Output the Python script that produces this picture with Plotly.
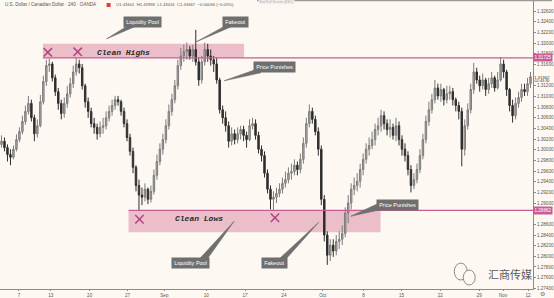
import plotly.graph_objects as go

# ---------------- data (USD/CAD, 240 candles) ----------------
close = [1.3016,1.3004,1.2991,1.2986,1.3001,1.3019,1.3034,1.3053,1.3072,1.3087,
         1.3060,1.3030,1.3045,1.3090,1.3128,1.3158,1.3161,1.3135,1.3109,1.3087,
         1.3068,1.3087,1.3105,1.3124,1.3146,1.3161,1.3154,1.3120,1.3090,1.3072,
         1.3049,1.3042,1.3030,1.3042,1.3045,1.3060,1.3072,1.3083,1.3094,1.3090,
         1.3072,1.3049,1.3023,1.2997,1.2967,1.2933,1.2915,1.2911,1.2926,1.2907,
         1.2922,1.2952,1.2978,1.3001,1.3019,1.3045,1.3072,1.3094,1.3120,1.3158,
         1.3176,1.3184,1.3188,1.3176,1.3188,1.3165,1.3131,1.3165,1.3188,1.3176,
         1.3169,1.3161,1.3131,1.3075,1.3060,1.3045,1.3016,1.3030,1.3019,1.3030,
         1.3038,1.3027,1.3019,1.3045,1.3049,1.3027,1.3001,1.2989,1.2956,1.2926,
         1.2907,1.2911,1.2918,1.2926,1.2937,1.2944,1.2956,1.2959,1.2971,1.2963,
         1.2982,1.3012,1.3049,1.3072,1.3057,1.3034,1.3001,1.2907,1.2840,1.2802,
         1.2821,1.2810,1.2828,1.2832,1.2843,1.2881,1.2900,1.2926,1.2933,1.2941,
         1.2963,1.2982,1.3001,1.3008,1.3019,1.3038,1.3045,1.3064,1.3049,1.3038,
         1.3042,1.3027,1.3045,1.3019,1.3001,1.2989,1.2963,1.2933,1.2944,1.2963,
         1.2989,1.3019,1.3053,1.3075,1.3094,1.3116,1.3101,1.3113,1.3094,1.3105,
         1.3109,1.3094,1.3083,1.3072,1.3001,1.3045,1.3075,1.3113,1.3146,1.3131,
         1.3120,1.3131,1.3113,1.3124,1.3135,1.3116,1.3131,1.3161,1.3146,1.3113,
         1.3083,1.3064,1.3087,1.3098,1.3113,1.3109,1.3124,1.3137]

open_ = [1.3010,
         1.3016,1.3004,1.2991,1.2986,1.3001,1.3019,1.3034,1.3053,1.3072,1.3087,
         1.3060,1.3030,1.3045,1.3090,1.3128,1.3158,1.3161,1.3135,1.3109,1.3087,
         1.3068,1.3087,1.3105,1.3124,1.3146,1.3161,1.3154,1.3120,1.3090,1.3072,
         1.3049,1.3042,1.3030,1.3042,1.3045,1.3060,1.3072,1.3083,1.3094,1.3090,
         1.3072,1.3049,1.3023,1.2997,1.2967,1.2933,1.2915,1.2911,1.2926,1.2907,
         1.2922,1.2952,1.2978,1.3001,1.3019,1.3045,1.3072,1.3094,1.3120,1.3158,
         1.3176,1.3184,1.3188,1.3176,1.3188,1.3165,1.3131,1.3165,1.3188,1.3176,
         1.3169,1.3161,1.3131,1.3075,1.3060,1.3045,1.3016,1.3030,1.3019,1.3030,
         1.3038,1.3027,1.3019,1.3045,1.3049,1.3027,1.3001,1.2989,1.2956,1.2926,
         1.2907,1.2911,1.2918,1.2926,1.2937,1.2944,1.2956,1.2959,1.2971,1.2963,
         1.2982,1.3012,1.3049,1.3072,1.3057,1.3034,1.3001,1.2907,1.2840,1.2802,
         1.2821,1.2810,1.2828,1.2832,1.2843,1.2881,1.2900,1.2926,1.2933,1.2941,
         1.2963,1.2982,1.3001,1.3008,1.3019,1.3038,1.3045,1.3064,1.3049,1.3038,
         1.3042,1.3027,1.3045,1.3019,1.3001,1.2989,1.2963,1.2933,1.2944,1.2963,
         1.2989,1.3019,1.3053,1.3075,1.3094,1.3116,1.3101,1.3113,1.3094,1.3105,
         1.3109,1.3094,1.3083,1.3072,1.3001,1.3045,1.3075,1.3113,1.3146,1.3131,
         1.3120,1.3131,1.3113,1.3124,1.3135,1.3116,1.3131,1.3161,1.3146,1.3113,
         1.3083,1.3064,1.3087,1.3098,1.3113,1.3109,1.3124]

high = [1.3027,1.3023,1.3010,1.3001,1.3008,1.3029,1.3042,1.3064,1.3083,1.3101,
        1.3094,1.3066,1.3057,1.3103,1.3139,1.3169,1.3171,1.3165,1.3141,1.3116,
        1.3094,1.3098,1.3120,1.3135,1.3158,1.3173,1.3169,1.3161,1.3124,1.3098,
        1.3079,1.3060,1.3049,1.3053,1.3060,1.3072,1.3083,1.3094,1.3101,1.3101,
        1.3094,1.3079,1.3057,1.3030,1.3004,1.2971,1.2944,1.2929,1.2937,1.2929,
        1.2933,1.2963,1.2991,1.3012,1.3030,1.3057,1.3085,1.3105,1.3131,1.3169,
        1.3191,1.3197,1.3201,1.3195,1.3197,1.3225,1.3173,1.3176,1.3201,1.3199,
        1.3188,1.3176,1.3173,1.3135,1.3083,1.3072,1.3053,1.3042,1.3038,1.3042,
        1.3045,1.3045,1.3034,1.3057,1.3060,1.3057,1.3034,1.3008,1.2997,1.2963,
        1.2933,1.2922,1.2929,1.2937,1.2948,1.2959,1.2967,1.2974,1.2982,1.2978,
        1.2993,1.3023,1.3060,1.3085,1.3079,1.3064,1.3042,1.3008,1.2915,1.2847,
        1.2832,1.2832,1.2840,1.2847,1.2858,1.2892,1.2915,1.2937,1.2948,1.2956,
        1.2974,1.2993,1.3012,1.3023,1.3034,1.3049,1.3060,1.3075,1.3072,1.3057,
        1.3057,1.3049,1.3060,1.3053,1.3027,1.3012,1.2997,1.2971,1.2956,1.2974,
        1.3001,1.3030,1.3064,1.3090,1.3105,1.3131,1.3124,1.3124,1.3116,1.3120,
        1.3120,1.3116,1.3098,1.3090,1.3079,1.3057,1.3087,1.3124,1.3163,1.3154,
        1.3139,1.3143,1.3135,1.3135,1.3146,1.3139,1.3146,1.3174,1.3169,1.3150,
        1.3116,1.3094,1.3098,1.3109,1.3124,1.3124,1.3135,1.3146]

low = [1.3004,1.2997,1.2978,1.2971,1.2982,1.2997,1.3014,1.3029,1.3047,1.3066,
       1.3053,1.3016,1.3023,1.3042,1.3085,1.3120,1.3146,1.3128,1.3101,1.3075,
       1.3057,1.3060,1.3079,1.3098,1.3116,1.3139,1.3143,1.3113,1.3079,1.3060,
       1.3042,1.3030,1.3019,1.3023,1.3030,1.3038,1.3053,1.3064,1.3075,1.3083,
       1.3064,1.3042,1.3016,1.2989,1.2956,1.2922,1.2886,1.2896,1.2903,1.2898,
       1.2901,1.2916,1.2944,1.2971,1.2991,1.3012,1.3038,1.3064,1.3087,1.3113,
       1.3150,1.3165,1.3169,1.3169,1.3165,1.3158,1.3120,1.3124,1.3158,1.3165,
       1.3158,1.3146,1.3124,1.3068,1.3049,1.3034,1.3004,1.3008,1.3010,1.3012,
       1.3019,1.3016,1.3004,1.3016,1.3038,1.3019,1.2993,1.2978,1.2948,1.2918,
       1.2888,1.2886,1.2900,1.2911,1.2918,1.2929,1.2937,1.2944,1.2952,1.2952,
       1.2956,1.2974,1.3004,1.3042,1.3049,1.3027,1.2989,1.2896,1.2828,1.2784,
       1.2791,1.2799,1.2802,1.2814,1.2821,1.2836,1.2862,1.2888,1.2915,1.2922,
       1.2929,1.2952,1.2974,1.2989,1.3001,1.3008,1.3027,1.3034,1.3038,1.3027,
       1.3023,1.3019,1.3016,1.3008,1.2989,1.2978,1.2952,1.2920,1.2926,1.2937,
       1.2956,1.2982,1.3012,1.3045,1.3068,1.3087,1.3094,1.3090,1.3083,1.3087,
       1.3094,1.3083,1.3072,1.3057,1.2969,1.2989,1.3038,1.3068,1.3105,1.3124,
       1.3109,1.3113,1.3101,1.3105,1.3116,1.3109,1.3113,1.3128,1.3135,1.3101,
       1.3072,1.3051,1.3057,1.3079,1.3090,1.3101,1.3101,1.3116]

candle_idx = list(range(len(close)))

x_tick_labels = ["7", "13", "20", "27", "Sep", "10", "17", "24", "Oct",
                 "8", "15", "22", "29", "Nov", "12"]
x_tick_pos = [5.83, 16.5, 29.5, 42.17, 54.5, 68.5, 81.5, 94.5, 107.5,
              121.17, 133.83, 146.83, 159.83, 167.83, 176.17]

y_tick_vals = [1.274, 1.276, 1.278, 1.280, 1.282, 1.284, 1.286, 1.290,
               1.292, 1.294, 1.296, 1.298, 1.300, 1.302, 1.304, 1.306, 1.308,
               1.310, 1.312, 1.316, 1.318, 1.320, 1.322, 1.324, 1.326, 1.328]
y_tick_text = ["%.5f" % v for v in y_tick_vals]

high_level = 1.31725     # clean highs line
low_level = 1.28862      # clean lows line
last_price = 1.31362
last_time = "02:43:30"

# ---------------- layout helpers ----------------
W, H = 554, 298
PR, PB = 19, 8
PW, PH = W - PR, H - PB          # plot area 535 x 290
BG = "#fdf9f2"
PINK = "#c65d95"
PINK_FILL = "rgba(200,80,130,0.35)"
CALLOUT = "#6f6f6f"


def px(x):
    return x / PW


def py(y):
    return (PH - y) / PH


fig = go.Figure()
fig.add_trace(go.Candlestick(
    x=candle_idx, open=open_, high=high, low=low, close=close,
    increasing=dict(line=dict(color="#7c7c7c", width=1), fillcolor="#a9a9a9"),
    decreasing=dict(line=dict(color="#2f2f2f", width=1), fillcolor="#2f2f2f"),
    whiskerwidth=0, showlegend=False, hoverinfo="skip",
))

shapes = []
# zones
shapes.append(dict(type="rect", xref="paper", yref="y", x0=px(43), x1=px(245),
                   y0=high_level, y1=1.3199, fillcolor=PINK_FILL, line=dict(width=0),
                   layer="below"))
shapes.append(dict(type="rect", xref="paper", yref="y", x0=px(129), x1=px(382),
                   y0=1.2845, y1=low_level, fillcolor=PINK_FILL, line=dict(width=0),
                   layer="below"))
shapes.append(dict(type="line", xref="paper", yref="y", x0=px(43), x1=1,
                   y0=high_level, y1=high_level, line=dict(color=PINK, width=1.2)))
shapes.append(dict(type="line", xref="paper", yref="y", x0=px(129), x1=1,
                   y0=low_level, y1=low_level, line=dict(color=PINK, width=1.2)))

# X marks
for cx, cy in [(48, 52.5), (78, 52), (140, 220), (276, 218.5)]:
    d = 4.2
    shapes.append(dict(type="line", xref="paper", yref="paper",
                       x0=px(cx - d), x1=px(cx + d), y0=py(cy - d), y1=py(cy + d),
                       line=dict(color="#b0457f", width=1.5)))
    shapes.append(dict(type="line", xref="paper", yref="paper",
                       x0=px(cx - d), x1=px(cx + d), y0=py(cy + d), y1=py(cy - d),
                       line=dict(color="#b0457f", width=1.5)))

# callout pointer wedges
wedges = [
    [(128, 26), (137, 26), (107, 39)],
    [(226, 26), (234, 26), (197, 42)],
    [(256, 70), (262, 73), (225, 81)],
    [(200, 260), (208, 260), (235, 222)],
    [(280, 260), (287, 260), (320, 223)],
    [(378, 205), (384, 210), (352, 217)],
]
for w in wedges:
    path = "M {} {} L {} {} L {} {} Z".format(px(w[0][0]), py(w[0][1]),
                                              px(w[1][0]), py(w[1][1]),
                                              px(w[2][0]), py(w[2][1]))
    shapes.append(dict(type="path", xref="paper", yref="paper", path=path,
                       fillcolor=CALLOUT, line=dict(color=CALLOUT, width=0.6)))

# header red square
shapes.append(dict(type="rect", xref="paper", yref="paper", x0=px(107), x1=px(111),
                   y0=py(7), y1=py(3), fillcolor="#e53935", line=dict(width=0)))
# top gray bar
shapes.append(dict(type="line", xref="paper", yref="paper", x0=px(258), x1=W / PW,
                   y0=py(0.6), y1=py(0.6), line=dict(color="#9a9a9a", width=1.5)))
# watermark icon
shapes.append(dict(type="circle", xref="paper", yref="paper", x0=px(456), x1=px(469),
                   y0=py(281), y1=py(264), line=dict(color="#8a8a8a", width=1)))
shapes.append(dict(type="circle", xref="paper", yref="paper", x0=px(465), x1=px(477),
                   y0=py(286), y1=py(271), fillcolor=BG, line=dict(color="#8a8a8a", width=1)))

annotations = []


def note(text, cx, cy, size, color, family="Liberation Sans", xanchor="center", **kw):
    annotations.append(dict(xref=kw.pop("xref", "paper"), yref=kw.pop("yref", "paper"),
                            x=cx, y=cy, xanchor=xanchor, yanchor=kw.pop("yanchor", "middle"),
                            text=text, showarrow=False,
                            font=dict(color=color, size=size, family=family), **kw))


for txt, cx, cy in [("Liquidity Pool", 143.5, 22), ("Fakeout", 236.5, 22),
                    ("Price Punishes", 275.5, 67.5), ("Liquidity Pool", 191, 264),
                    ("Fakeout", 276, 264), ("Price Punishes", 398.5, 205.5)]:
    note(txt, px(cx), py(cy), 5.5, "white", bgcolor=CALLOUT, borderpad=2.2)

note("<b><i>Clean Highs</i></b>", px(124), py(52.5), 8, "#2b2b2b", family="Liberation Mono")
note("<b><i>Clean Lows</i></b>", px(200), py(219), 8, "#2b2b2b", family="Liberation Mono")

# header
note("U.S. Dollar / Canadian Dollar · 240 · OANDA", px(3), py(5), 4.6, "#555",
     xanchor="left")
note("O1.43601  H1.43958  L1.43016  C1.43667  −0.00066 (−0.05%)", px(114), py(5),
     4.2, "#555", xanchor="left")
note("Exit Full Screen (ESC)", px(278), py(2), 3.4, "#aaa", bgcolor="#f3f1ee",
     borderpad=0.5)

# price labels on the axis
for val in [high_level, low_level]:
    note("%.5f" % val, 1.0, val, 4.6, "white", xanchor="left", yref="y",
         bgcolor=PINK, borderpad=1, width=16)
note("%.5f" % last_price, 1.0, last_price, 4.3, "#333", xanchor="left", yref="y",
     width=16, borderpad=0)
note(last_time, 1.0, py(81.2), 3.8, "#333", xanchor="left", width=16, borderpad=0)

# watermark & gear
note("汇商传媒", px(488), py(275), 11, "#5a5a5a", family="Noto Sans CJK SC",
     xanchor="left")
note("⚙", 545 / PW, py(295), 6, "#777", family="DejaVu Sans")

fig.update_layout(
    width=W, height=H,
    margin=dict(l=0, r=PR, t=0, b=PB),
    paper_bgcolor=BG, plot_bgcolor=BG,
    shapes=shapes, annotations=annotations,
    showlegend=False,
    xaxis=dict(range=[-0.5, -0.5 + PW / 3], rangeslider=dict(visible=False),
               showgrid=False, zeroline=False, showline=True, linecolor="#8a8a8a",
               linewidth=1, tickmode="array", tickvals=x_tick_pos,
               ticktext=x_tick_labels, ticks="outside", ticklen=1, tickcolor="#8a8a8a",
               tickfont=dict(size=4.6, color="#555", family="Liberation Sans")),
    yaxis=dict(range=[1.3281 - PH * 0.000187, 1.3281], side="right",
               showgrid=False, zeroline=False, showline=True, linecolor="#8a8a8a",
               linewidth=1, tickmode="array", tickvals=y_tick_vals,
               ticktext=y_tick_text, ticks="outside", ticklen=2, tickcolor="#8a8a8a",
               tickfont=dict(size=4.6, color="#555", family="Liberation Sans")),
)

fig.write_html("out.html")
